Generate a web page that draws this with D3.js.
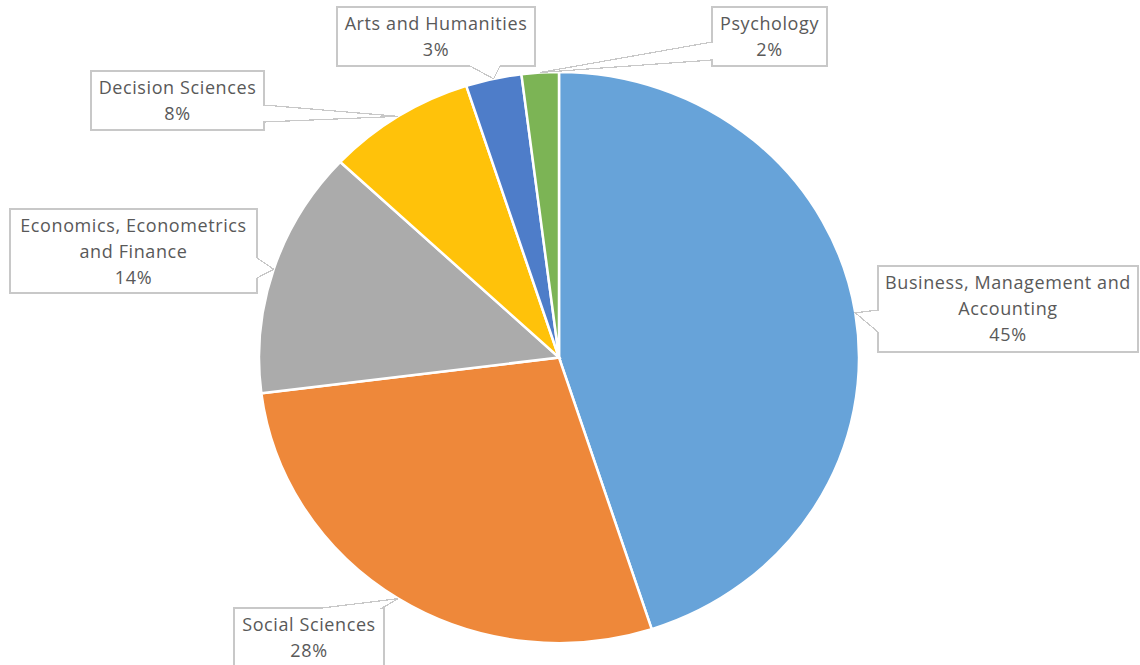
<!DOCTYPE html>
<html>
<head>
<meta charset="utf-8">
<script src="https://cdn.jsdelivr.net/npm/d3@7"></script>
<style>
  html, body { margin: 0; padding: 0; background: #fff; }
  svg { display: block; }
  text { font-family: "Open Sans", "Noto Sans", sans-serif; fill: #595959; }
</style>
</head>
<body>
<svg id="chart" width="1140" height="665"></svg>
<script>
// Subject areas and their share (%) of documents
const categories = [
  "Business, Management and Accounting",
  "Social Sciences",
  "Economics, Econometrics and Finance",
  "Decision Sciences",
  "Arts and Humanities",
  "Psychology"
];
const values = [45, 28, 14, 8, 3, 2];
const colors = ["#67A3D9", "#EE883A", "#ABABAB", "#FFC20A", "#4E7DC9", "#7CB455"];

// Label text lines (wrapped as in the callouts)
const labelLines = [
  ["Business, Management and", "Accounting"],
  ["Social Sciences"],
  ["Economics, Econometrics", "and Finance"],
  ["Decision Sciences"],
  ["Arts and Humanities"],
  ["Psychology"]
];

// Callout boxes: position, size, the side the pointer leaves from, and its base span
const callouts = [
  { x: 878, y: 266, w: 260, h: 86, side: "left",   b0: 310, b1: 332 },
  { x: 234, y: 608, w: 150, h: 70, side: "top",    b0: 322, b1: 382 },
  { x: 10,  y: 209, w: 247, h: 84, side: "right",  b0: 258, b1: 278 },
  { x: 91,  y: 71,  w: 173, h: 59, side: "right",  b0: 105, b1: 122 },
  { x: 337, y: 7,   w: 198, h: 59, side: "bottom", b0: 470, b1: 500 },
  { x: 712, y: 7,   w: 115, h: 59, side: "left",   b0: 42,  b1: 60 }
];

const W = 1140, H = 665;
const cx = 559, cy = 357.5, R = 300, ry = 0.952;

const svg = d3.select("#chart");
svg.append("rect").attr("width", W).attr("height", H).attr("fill", "#fff");

const total = d3.sum(values);
const pie = d3.pie().sort(null).value(d => d)(values);
const arc = d3.arc().innerRadius(0).outerRadius(R);

const g = svg.append("g").attr("transform", `translate(${cx},${cy}) scale(1,${ry})`);
g.selectAll("path.slice")
  .data(pie)
  .join("path")
  .attr("class", "slice")
  .attr("d", arc)
  .attr("fill", (d, i) => colors[i])
  .attr("stroke", "#fff")
  .attr("stroke-width", 2.5)
  .attr("vector-effect", "non-scaling-stroke");

// Pointer tip sits on the slice edge at its mid angle
function tipOf(d) {
  const a = (d.startAngle + d.endAngle) / 2;
  return [cx + R * Math.sin(a), cy - R * ry * Math.cos(a)];
}

function calloutPath(c, tip) {
  const { x, y, w, h, side, b0, b1 } = c;
  const p = [[x, y]];
  if (side === "top") p.push([b0, y], tip, [b1, y]);
  p.push([x + w, y]);
  if (side === "right") p.push([x + w, b0], tip, [x + w, b1]);
  p.push([x + w, y + h]);
  if (side === "bottom") p.push([b1, y + h], tip, [b0, y + h]);
  p.push([x, y + h]);
  if (side === "left") p.push([x, b1], tip, [x, b0]);
  return "M" + p.map(q => q.join(",")).join("L") + "Z";
}

const labels = svg.append("g");
pie.forEach((d, i) => {
  const c = callouts[i];
  const tip = tipOf(d);
  labels.append("path")
    .attr("d", calloutPath(c, tip))
    .attr("fill", "#fff")
    .attr("stroke", "#C8C8C8")
    .attr("stroke-width", 1.2)
    .attr("shape-rendering", "crispEdges");
  const lines = labelLines[i].concat([Math.round(d.data / total * 100) + "%"]);
  const t = labels.append("text")
    .attr("text-anchor", "middle")
    .attr("font-size", 18)
    .attr("letter-spacing", 0.6);
  lines.forEach((s, k) => {
    t.append("tspan")
      .attr("x", c.x + c.w / 2)
      .attr("y", c.y + 17 + k * 26)
      .attr("dy", "0.35em")
      .text(s);
  });
});
</script>
</body>
</html>
